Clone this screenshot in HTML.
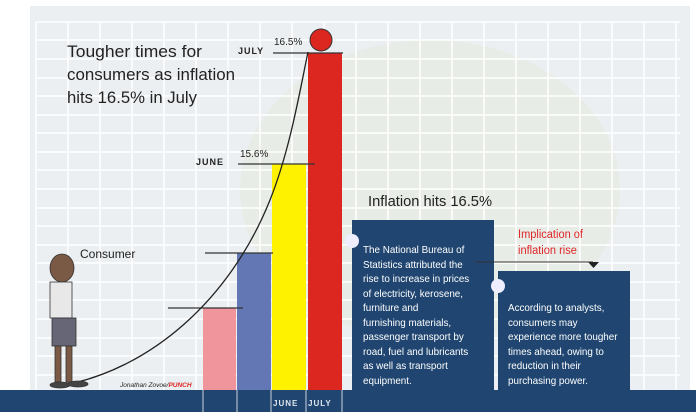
<!DOCTYPE html>
<html><head><style>
body{margin:0;width:696px;height:412px;overflow:hidden;background:#fff;font-family:"Liberation Sans",sans-serif;}
</style></head><body>
<svg width="696" height="412" viewBox="0 0 696 412" xmlns="http://www.w3.org/2000/svg" font-family="Liberation Sans, sans-serif">
<rect x="30" y="6" width="660" height="386" fill="#eceff1"/>
<ellipse cx="430" cy="190" rx="190" ry="150" fill="#e6eadf" opacity="0.6"/>
<g stroke="#fff" stroke-width="1.5">
<path d="M36 22V390M68 22V390M100 22V390M132 22V390M164 22V390M196 22V390M228 22V390M260 22V390M292 22V390M324 22V390M356 22V390M388 22V390M420 22V390M452 22V390M484 22V390M516 22V390M548 22V390M580 22V390M612 22V390M644 22V390M676 22V390"/>
<path d="M36 22H680M36 40H680M36 59H680M36 78H680M36 96H680M36 115H680M36 133H680M36 152H680M36 170H680M36 189H680M36 208H680M36 226H680M36 245H680M36 263H680M36 282H680M36 300H680M36 319H680M36 338H680M36 356H680M36 375H680"/>
</g>
<rect x="0" y="390" width="696" height="22" fill="#1f4570"/>
<rect x="203" y="308" width="33" height="82" fill="#f0959b"/>
<rect x="237" y="253" width="34" height="137" fill="#6277b4"/>
<rect x="272" y="164" width="34" height="226" fill="#fff200"/>
<rect x="308" y="53" width="34" height="337" fill="#dc2620"/>
<g stroke="#ccd3dc" stroke-width="1"><path d="M203 390V412M237 390V412M271 390V412M306 390V412M342 390V412"/></g>
<g stroke="#333" stroke-width="1.3"><path d="M168 308H243M205 253H273M238 164H315M273 53H343"/></g>
<path d="M60 386 C150 370 230 300 270 200 C290 150 300 90 308 52" fill="none" stroke="#222" stroke-width="1.3"/>
<circle cx="321" cy="40" r="11" fill="#dc2620" stroke="#333" stroke-width="1"/>
<text x="238" y="54" font-size="9" font-weight="bold" fill="#222" letter-spacing="1">JULY</text>
<text x="274" y="45" font-size="10" fill="#222">16.5%</text>
<text x="196" y="165" font-size="9" font-weight="bold" fill="#222" letter-spacing="1">JUNE</text>
<text x="240" y="157" font-size="10" fill="#222">15.6%</text>
<text x="273" y="406" font-size="8" font-weight="bold" fill="#dfe6ee" letter-spacing="1">JUNE</text>
<text x="308" y="406" font-size="8" font-weight="bold" fill="#dfe6ee" letter-spacing="1">JULY</text>
<g font-size="17" fill="#222"><text x="67" y="57" textLength="135" lengthAdjust="spacingAndGlyphs">Tougher times for</text><text x="67" y="80" textLength="168" lengthAdjust="spacingAndGlyphs">consumers as inflation</text><text x="67" y="103" textLength="130" lengthAdjust="spacingAndGlyphs">hits 16.5% in July</text></g>
<text x="80" y="258" font-size="12" fill="#222">Consumer</text>
<g fill="#7a5a44" stroke="#333" stroke-width="0.8">
<ellipse cx="62" cy="268" rx="12" ry="14"/>
<rect x="50" y="282" width="22" height="36" fill="#e8e8e8"/>
<rect x="52" y="318" width="24" height="28" fill="#667"/>
<rect x="55" y="346" width="6" height="36"/><rect x="66" y="346" width="6" height="36"/>
<ellipse cx="60" cy="385" rx="10" ry="3" fill="#444"/><ellipse cx="78" cy="384" rx="10" ry="3" fill="#444"/>
</g>
<text x="120" y="387" font-size="6.5" fill="#222" font-style="italic">Jonathan Zovoe/<tspan fill="#dc2620" font-weight="bold">PUNCH</tspan></text>
<text x="368" y="206" font-size="15" fill="#222" textLength="124" lengthAdjust="spacingAndGlyphs">Inflation hits 16.5%</text>
<rect x="352" y="220" width="142" height="170" fill="#1f4570"/>
<circle cx="352" cy="241" r="7" fill="#eef"/>
<rect x="498" y="271" width="132" height="119" fill="#1f4570"/>
<circle cx="498" cy="286" r="7" fill="#eef"/>
<g font-size="10.5" fill="#fff" transform="translate(363 0) scale(0.94 1)"><text x="0" y="253">The National Bureau of</text><text x="0" y="268">Statistics attributed the</text><text x="0" y="282">rise to increase in prices</text><text x="0" y="297">of electricity, kerosene,</text><text x="0" y="311">furniture and</text><text x="0" y="326">furnishing materials,</text><text x="0" y="340">passenger transport by</text><text x="0" y="355">road, fuel and lubricants</text><text x="0" y="369">as well as transport</text><text x="0" y="384">equipment.</text></g>
<g font-size="10.5" fill="#fff" transform="translate(508 0) scale(0.94 1)"><text x="0" y="311">According to analysts,</text><text x="0" y="326">consumers may</text><text x="0" y="340">experience more tougher</text><text x="0" y="355">times ahead, owing to</text><text x="0" y="369">reduction in their</text><text x="0" y="384">purchasing power.</text></g>
<g font-size="12" fill="#e0262a" transform="translate(518 0) scale(0.92 1)"><text x="0" y="238">Implication of</text><text x="0" y="254">inflation rise</text></g>
<path d="M475 262H593" stroke="#333" stroke-width="1"/>
<path d="M588 262H599L593.5 268Z" fill="#222"/>
</svg>
</body></html>
